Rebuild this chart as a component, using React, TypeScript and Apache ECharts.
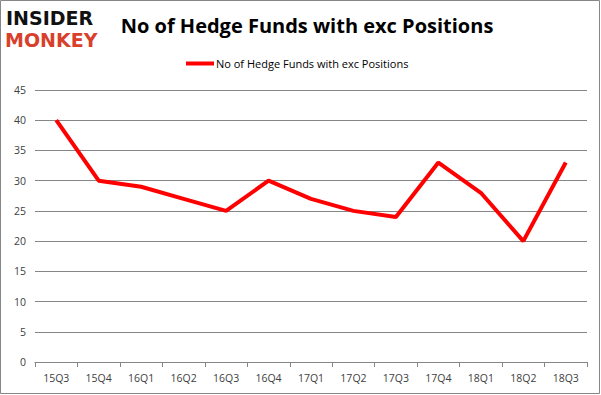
import React, { useEffect, useRef } from "react";
import * as echarts from "echarts";

const categories = ["15Q3", "15Q4", "16Q1", "16Q2", "16Q3", "16Q4", "17Q1", "17Q2", "17Q3", "17Q4", "18Q1", "18Q2", "18Q3"];
const values = [40, 30, 29, 27, 25, 30, 27, 25, 24, 33, 28, 20, 33];
const seriesName = "No of Hedge Funds with exc Positions";
const titleText = "No of Hedge Funds with exc Positions";

export default function App() {
  const ref = useRef<HTMLDivElement>(null);
  useEffect(() => {
    if (!ref.current) return;
    const chart = echarts.init(ref.current, null, { renderer: "svg" });
    chart.setOption({
      animation: false,
      backgroundColor: "#ffffff",
      title: {
        text: titleText,
        left: 302,
        textAlign: "center",
        top: 10,
        textStyle: { fontFamily: "Open Sans", fontWeight: "bold", fontSize: 20, color: "#000" },
      },
      legend: {
        top: 53,
        left: 181,
        itemWidth: 28,
        itemHeight: 4,
        itemGap: 2,
        icon: "rect",
        textStyle: { fontFamily: "Open Sans", fontSize: 11, color: "#000", padding: [0, 0, 0, -3] },
        data: [seriesName],
      },
      grid: { left: 35, right: 14, top: 90, bottom: 33 },
      xAxis: {
        type: "category",
        data: categories,
        boundaryGap: true,
        axisLine: { lineStyle: { color: "#868686", width: 1 } },
        axisTick: { show: true, length: 5, lineStyle: { color: "#868686" } },
        axisLabel: { color: "#404040", fontFamily: "Open Sans", fontSize: 10.5, margin: 10 },
      },
      yAxis: {
        type: "value",
        min: 0,
        max: 45,
        interval: 5,
        axisLine: { show: false },
        axisTick: { show: false },
        splitLine: { lineStyle: { color: "#868686", width: 1 } },
        axisLabel: { color: "#404040", fontFamily: "Open Sans", fontSize: 10.5, margin: 9 },
      },
      series: [
        {
          name: seriesName,
          type: "line",
          data: values,
          symbol: "none",
          lineStyle: { color: "#ff0000", width: 4 },
          itemStyle: { color: "#ff0000" },
        },
      ],
      graphic: [
        {
          type: "rect",
          shape: { x: 0.5, y: 0.5, width: 599, height: 393 },
          style: { fill: "none", stroke: "#868686", lineWidth: 1 },
          silent: true,
        },
        {
          type: "text",
          x: 6,
          y: 8,
          style: { text: "INSIDER", fontFamily: "DejaVu Sans", fontWeight: 900, fontSize: 19, lineHeight: 19, fill: "#111" },
        },
        {
          type: "text",
          x: 5,
          y: 30,
          style: { text: "MONKEY", fontFamily: "DejaVu Sans", fontWeight: 900, fontSize: 19, lineHeight: 19, fill: "#d9402b" },
        },
      ],
    });
    return () => chart.dispose();
  }, []);
  return <div ref={ref} style={{ width: 601, height: 395, position: "absolute", left: 0, top: 0 }} />;
}
